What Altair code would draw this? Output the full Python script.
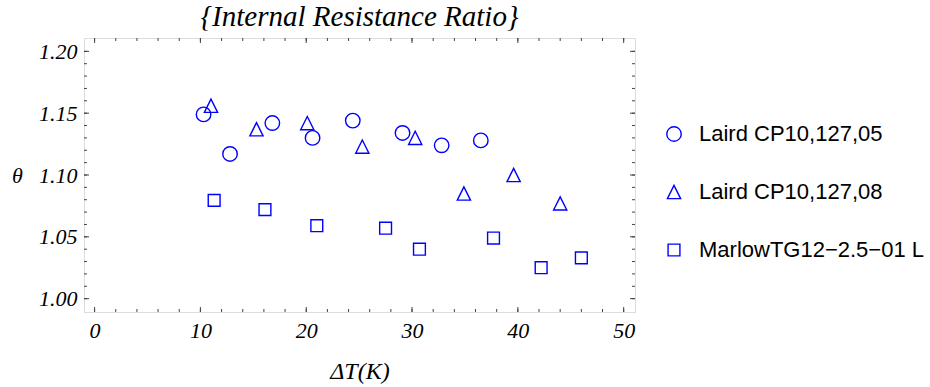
import altair as alt
import pandas as pd

# ---------------- data ----------------
series_names = ["Laird CP10,127,05", "Laird CP10,127,08", "MarlowTG12−2.5−01 L"]

laird05_dt = [10.3, 12.8, 16.8, 20.6, 24.4, 29.1, 32.8, 36.5]
laird05_theta = [1.149, 1.117, 1.142, 1.130, 1.144, 1.134, 1.124, 1.128]

laird08_dt = [11.0, 15.3, 20.1, 25.3, 30.3, 34.9, 39.6, 44.0]
laird08_theta = [1.156, 1.137, 1.142, 1.123, 1.130, 1.085, 1.100, 1.077]

marlow_dt = [11.3, 16.1, 21.0, 27.5, 30.7, 37.7, 42.2, 46.0]
marlow_theta = [1.0795, 1.072, 1.059, 1.057, 1.040, 1.049, 1.025, 1.033]

x_tick_labels = [0, 10, 20, 30, 40, 50]
x_minor_ticks = [0, 2, 4, 6, 8, 10, 12, 14, 16, 18, 20, 22, 24, 26, 28, 30,
                 32, 34, 36, 38, 40, 42, 44, 46, 48, 50]
y_tick_labels = [1.00, 1.05, 1.10, 1.15, 1.20]
y_minor_ticks = [1.00, 1.01, 1.02, 1.03, 1.04, 1.05, 1.06, 1.07, 1.08, 1.09, 1.10,
                 1.11, 1.12, 1.13, 1.14, 1.15, 1.16, 1.17, 1.18, 1.19, 1.20]

rows = []
for name, xs, ys in [(series_names[0], laird05_dt, laird05_theta),
                     (series_names[1], laird08_dt, laird08_theta),
                     (series_names[2], marlow_dt, marlow_theta)]:
    for a, b in zip(xs, ys):
        rows.append({"series": name, "dT": a, "theta": b})
df = pd.DataFrame(rows)

# ---------------- style ----------------
W, H = 551, 274
FRAME = "#444444"
BLUE = "#0000ff"
SERIF = "Liberation Serif"
SANS = "Liberation Sans"
TRI = "M0,-1L1,1L-1,1Z"

xscale = alt.Scale(domain=[-1.0, 51.07], nice=False, zero=False)
yscale = alt.Scale(domain=[0.9892, 1.2108], nice=False, zero=False)

legend = alt.Legend(
    title=None, orient="none", legendX=579, legendY=85, padding=0,
    labelFont=SANS, labelFontSize=22, labelColor="black", labelOffset=14,
    labelLimit=0, rowPadding=36, symbolStrokeWidth=1.4, symbolStrokeColor=BLUE,
    symbolFillColor="transparent",
)

points = alt.Chart(df).mark_point(filled=False, color=BLUE, strokeWidth=1.4, opacity=1).encode(
    x=alt.X("dT:Q", scale=xscale, axis=alt.Axis(
        values=x_tick_labels, format="d", title="ΔT(K)", ticks=False, tickSize=0,
        domain=False, grid=False, labelPadding=8, labelFont=SERIF,
        labelFontStyle="italic", labelFontSize=22, labelColor="black",
        titleFont=SERIF, titleFontStyle="italic", titleFontWeight="normal",
        titleFontSize=24, titleColor="black", titleY=66, titleBaseline="alphabetic")),
    y=alt.Y("theta:Q", scale=yscale, axis=alt.Axis(
        values=y_tick_labels, format=".2f", title="θ", ticks=False, tickSize=0,
        domain=False, grid=False, labelPadding=7, labelFont=SERIF,
        labelFontStyle="italic", labelFontSize=22, labelColor="black",
        titleFont=SERIF, titleFontStyle="italic", titleFontWeight="normal",
        titleFontSize=22, titleColor="black", titleAngle=0, titleX=-67,
        titleY=137, titleAlign="center", titleBaseline="middle")),
    shape=alt.Shape("series:N", scale=alt.Scale(domain=series_names,
                    range=["circle", TRI, "square"]), legend=legend),
    size=alt.Size("series:N", scale=alt.Scale(domain=series_names,
                  range=[210, 140, 90]), legend=legend),
)

xmaj = pd.DataFrame({"v": x_tick_labels})
xmin = pd.DataFrame({"v": x_minor_ticks})
ymaj = pd.DataFrame({"v": y_tick_labels})
ymin = pd.DataFrame({"v": y_minor_ticks})


def xticks(d, y0, y1):
    return alt.Chart(d).mark_rule(color=FRAME, strokeWidth=1).encode(
        x=alt.X("v:Q", scale=xscale),
        y=alt.value(y0), y2=alt.value(y1))


def yticks(d, x0, x1):
    return alt.Chart(d).mark_rule(color=FRAME, strokeWidth=1).encode(
        y=alt.Y("v:Q", scale=yscale),
        x=alt.value(x0), x2=alt.value(x1))


ticks = [
    xticks(xmaj, H, H - 5), xticks(xmin, H, H - 3),
    xticks(xmaj, 0, 5), xticks(xmin, 0, 3),
    yticks(ymaj, 0, 5), yticks(ymin, 0, 3),
    yticks(ymaj, W, W - 5), yticks(ymin, W, W - 3),
]

chart = alt.layer(points, *ticks).properties(
    width=W, height=H,
    autosize=alt.AutoSizeParams(type="none"),
    padding={"left": 84, "top": 38, "right": 295, "bottom": 75},
    title=alt.Title("{Internal Resistance Ratio}", font=SERIF, fontStyle="italic",
                    fontSize=29, fontWeight="normal", color="black",
                    anchor="middle", baseline="alphabetic", offset=-17),
).configure_view(stroke=FRAME, strokeWidth=1).configure(background="white")

chart.save("out.html", embed_options={"renderer": "svg", "actions": False})
